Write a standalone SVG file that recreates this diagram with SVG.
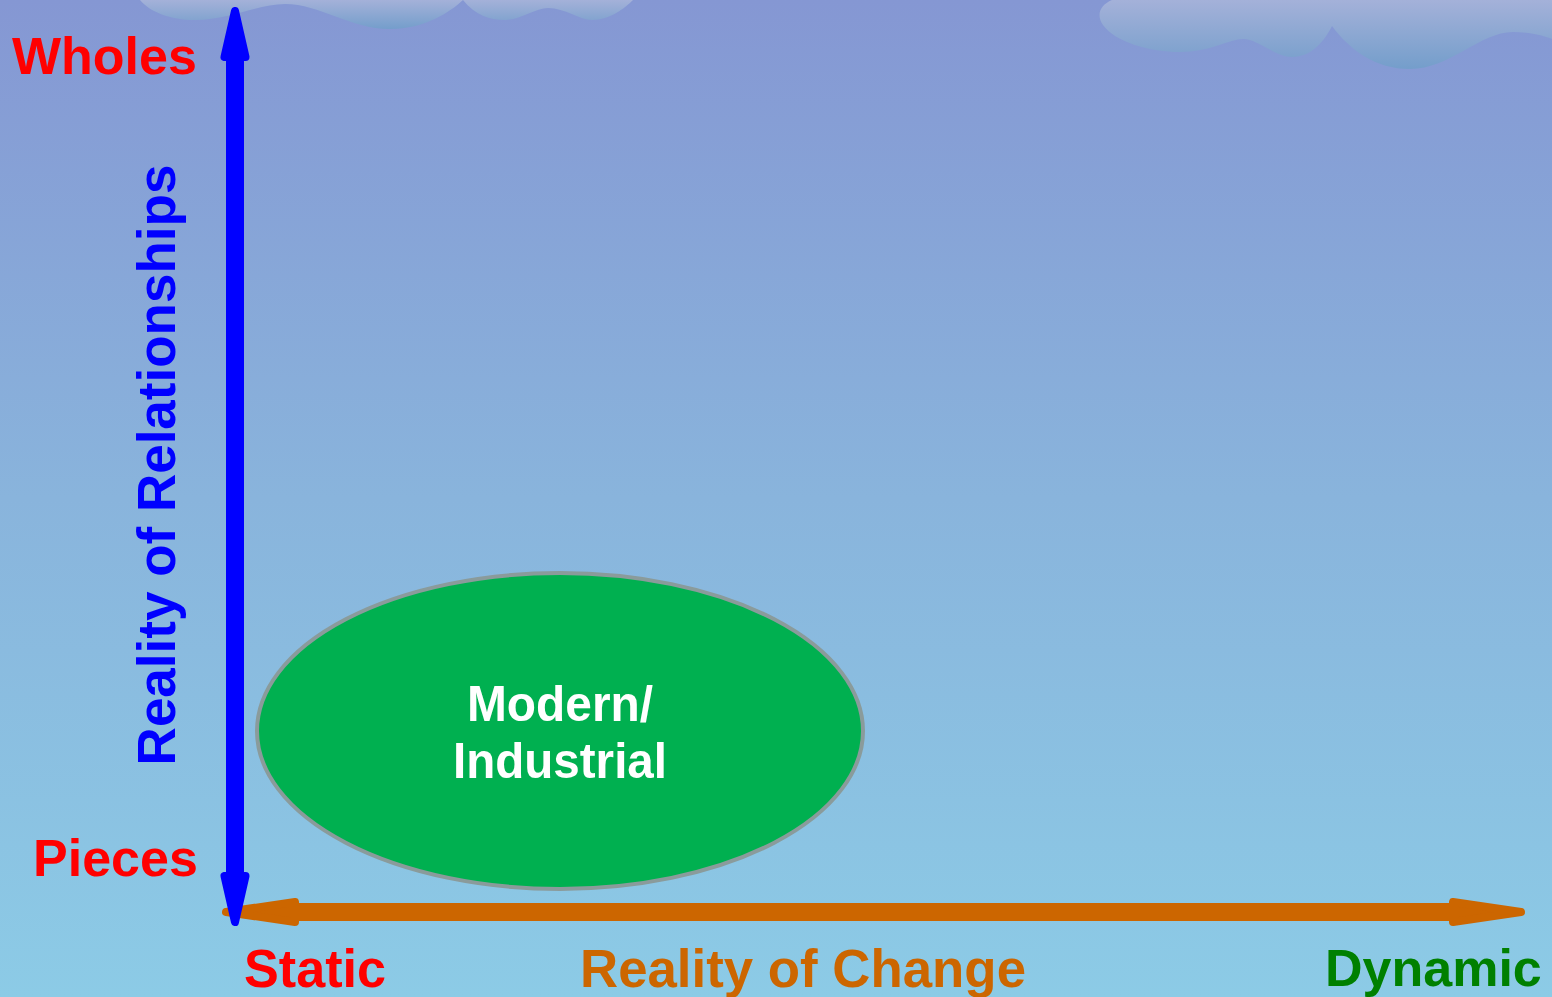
<svg xmlns="http://www.w3.org/2000/svg" width="1552" height="997" viewBox="0 0 1552 997">
<defs>
<linearGradient id="bg" x1="0" y1="0" x2="0" y2="1">
<stop offset="0" stop-color="#8597d3"/>
<stop offset="0.5" stop-color="#89b4dc"/>
<stop offset="1" stop-color="#8ccbe6"/>
</linearGradient>
<linearGradient id="cloud" x1="0" y1="0" x2="0" y2="1">
<stop offset="0" stop-color="#a4b1d9"/>
<stop offset="1" stop-color="#749ecb"/>
</linearGradient>
<style>
.lbl{font-family:"Liberation Sans",Arial,sans-serif;font-weight:bold;}
.blue{fill:#0000ff;stroke:#0000ff;stroke-width:8;stroke-linejoin:round;}
.orange{fill:#cc6600;stroke:#cc6600;stroke-width:8;stroke-linejoin:round;}
</style>
</defs>
<rect x="0" y="0" width="1552" height="997" fill="url(#bg)"/>
<g id="clouds" fill="url(#cloud)">
<path d="M140 0 C150 12 170 20 195 20 C230 20 258 4 285 4 C320 4 350 29 390 29 C425 29 450 12 463 0 C475 15 490 20 505 20 C520 20 535 8 548 8 C565 8 580 20 592 20 C610 20 625 8 633 0 Z"/>
<path d="M1112 0 C1100 5 1096 15 1103 25 C1115 42 1150 52 1180 52 C1210 52 1230 39 1243 39 C1258 39 1275 57 1292 57 C1312 57 1325 40 1332 26 C1350 50 1375 69 1410 69 C1450 69 1480 32 1513 32 C1530 32 1545 36 1552 39 L1552 0 Z"/>
</g>
<g id="node-modern">
<ellipse cx="560" cy="731" rx="303" ry="158" fill="#00b050" stroke="#8a9b9b" stroke-width="4"/>
<text class="lbl" x="560" y="721" font-size="50" fill="#ffffff" text-anchor="middle" textLength="186" lengthAdjust="spacingAndGlyphs">Modern/</text>
<text class="lbl" x="560" y="778" font-size="50" fill="#ffffff" text-anchor="middle" textLength="214" lengthAdjust="spacingAndGlyphs">Industrial</text>
</g>
<g id="connectors">
<g id="axis-change">
<line x1="292" y1="912" x2="1455" y2="912" stroke="#cc6600" stroke-width="18"/>
<polygon class="orange" points="226,912 295,902 295,922"/>
<polygon class="orange" points="1521,912 1453,902 1453,922"/>
</g>
<g id="axis-relationships">
<line x1="235" y1="55" x2="235" y2="878" stroke="#0000ff" stroke-width="18"/>
<polygon class="blue" points="235,11 224.5,57 245.5,57"/>
<polygon class="blue" points="235,922 224.5,876 245.5,876"/>
</g>
</g>
<g id="labels">
<text class="lbl" x="12" y="74" font-size="52" fill="#ff0000">Wholes</text>
<text class="lbl" x="33" y="876" font-size="52" fill="#ff0000">Pieces</text>
<text class="lbl" x="244" y="987" font-size="54" fill="#ff0000" textLength="142" lengthAdjust="spacingAndGlyphs">Static</text>
<text class="lbl" x="580" y="987" font-size="54" fill="#cc6600" textLength="446" lengthAdjust="spacingAndGlyphs">Reality of Change</text>
<text class="lbl" x="1325" y="986" font-size="52" fill="#008000">Dynamic</text>
<text class="lbl" transform="translate(175,465) rotate(-90)" x="0" y="0" font-size="53" fill="#0000ff" text-anchor="middle">Reality of Relationships</text>
</g>
</svg>
